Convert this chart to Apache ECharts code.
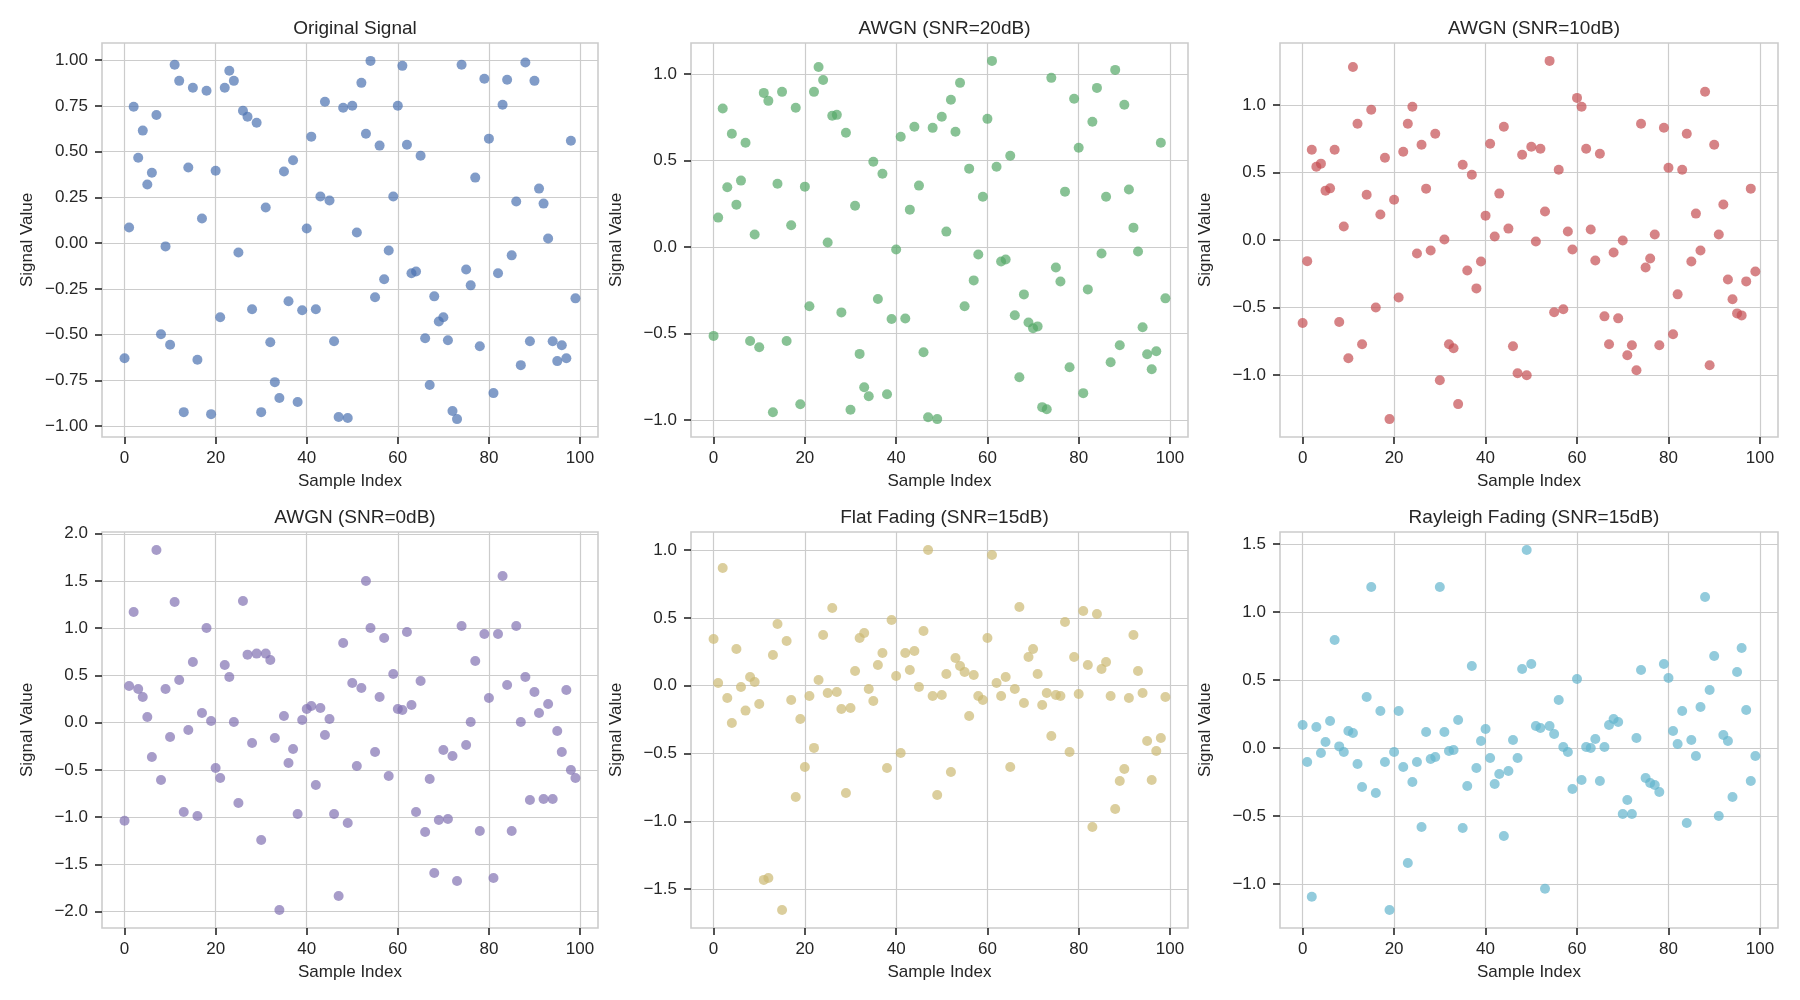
<!DOCTYPE html>
<html>
<head>
<meta charset="utf-8">
<script src="https://cdn.jsdelivr.net/npm/echarts@6/dist/echarts.min.js"></script>
<style>html,body{margin:0;padding:0;background:#fff}#c{width:1800px;height:1000px}</style>
</head>
<body>
<div id="c"></div>
<script>
// ---- DATA (sample index is the position in each array: 0..99) ----
const titles = ["Original Signal","AWGN (SNR=20dB)","AWGN (SNR=10dB)","AWGN (SNR=0dB)","Flat Fading (SNR=15dB)","Rayleigh Fading (SNR=15dB)"];
const xTicks = [0,20,40,60,80,100];

const original = [-0.629,0.085,0.745,0.467,0.615,0.32,0.385,0.70,-0.498,-0.018,
-0.556,0.975,0.887,-0.924,0.413,0.849,-0.638,0.135,0.833,-0.935,
0.396,-0.405,0.849,0.942,0.887,-0.051,0.724,0.691,-0.362,0.658,
-0.924,0.195,-0.542,-0.76,-0.847,0.391,-0.318,0.453,-0.869,-0.367,
0.08,0.582,-0.362,0.255,0.773,0.233,-0.536,-0.951,0.74,-0.956,
0.751,0.058,0.876,0.598,0.996,-0.296,0.533,-0.198,-0.04,0.255,
0.751,0.969,0.538,-0.165,-0.155,0.478,-0.52,-0.776,-0.291,-0.429,
-0.405,-0.531,-0.918,-0.962,0.975,-0.144,-0.231,0.358,-0.564,0.898,
0.571,-0.82,-0.165,0.756,0.893,-0.067,0.227,-0.667,0.987,-0.536,
0.887,0.298,0.216,0.025,-0.536,-0.645,-0.558,-0.629,0.56,-0.302];

const awgn20 = [-0.513,0.171,0.802,0.346,0.656,0.246,0.385,0.604,-0.542,0.073,
-0.579,0.892,0.846,-0.954,0.367,0.898,-0.542,0.127,0.806,-0.908,
0.35,-0.342,0.898,1.042,0.967,0.027,0.76,0.765,-0.377,0.662,
-0.94,0.24,-0.617,-0.81,-0.862,0.494,-0.3,0.425,-0.85,-0.415,
-0.013,0.638,-0.412,0.217,0.696,0.356,-0.608,-0.983,0.69,-0.994,
0.754,0.09,0.852,0.667,0.95,-0.342,0.454,-0.192,-0.042,0.292,
0.742,1.077,0.465,-0.083,-0.071,0.529,-0.394,-0.752,-0.273,-0.435,
-0.469,-0.458,-0.925,-0.937,0.979,-0.117,-0.198,0.321,-0.694,0.858,
0.575,-0.844,-0.244,0.725,0.921,-0.037,0.292,-0.665,1.025,-0.567,
0.823,0.333,0.113,-0.025,-0.463,-0.619,-0.706,-0.602,0.604,-0.296];

const awgn10 = [-0.613,-0.155,0.67,0.544,0.567,0.367,0.384,0.67,-0.606,0.101,
-0.874,1.283,0.862,-0.771,0.337,0.966,-0.498,0.19,0.611,-1.325,
0.3,-0.424,0.655,0.862,0.988,-0.099,0.707,0.382,-0.076,0.788,
-1.037,0.005,-0.771,-0.8,-1.214,0.559,-0.224,0.485,-0.357,-0.158,
0.182,0.714,0.027,0.345,0.84,0.086,-0.786,-0.985,0.633,-1.0,
0.692,-0.01,0.677,0.212,1.328,-0.534,0.522,-0.512,0.064,-0.069,
1.054,0.988,0.677,0.079,-0.15,0.64,-0.564,-0.771,-0.091,-0.579,
-0.002,-0.852,-0.778,-0.963,0.862,-0.202,-0.135,0.042,-0.778,0.833,
0.537,-0.697,-0.401,0.522,0.788,-0.158,0.197,-0.076,1.099,-0.926,
0.707,0.042,0.264,-0.291,-0.438,-0.542,-0.557,-0.305,0.382,-0.232];

const awgn0 = [-1.038,0.388,1.172,0.357,0.272,0.06,-0.364,1.828,-0.607,0.357,
-0.152,1.278,0.452,-0.946,-0.078,0.642,-0.988,0.102,1.002,0.018,
-0.48,-0.586,0.611,0.484,0.007,-0.851,1.288,0.72,-0.215,0.731,
-1.243,0.731,0.664,-0.162,-1.984,0.071,-0.427,-0.279,-0.967,0.028,
0.145,0.176,-0.66,0.155,-0.131,0.039,-0.967,-1.835,0.844,-1.062,
0.42,-0.459,0.367,1.5,1.002,-0.311,0.272,0.897,-0.565,0.515,
0.145,0.134,0.96,0.187,-0.946,0.441,-1.158,-0.597,-1.592,-1.031,
-0.289,-1.02,-0.353,-1.677,1.024,-0.236,0.007,0.653,-1.147,0.939,
0.261,-1.645,0.939,1.553,0.399,-1.147,1.024,0.007,0.484,-0.819,
0.325,0.102,-0.808,0.198,-0.808,-0.088,-0.311,0.346,-0.501,-0.586];

const flatFading = [0.344,0.02,0.867,-0.091,-0.275,0.27,-0.01,-0.184,0.064,0.027,
-0.135,-1.432,-1.418,0.226,0.455,-1.654,0.329,-0.106,-0.821,-0.246,
-0.6,-0.076,-0.459,0.042,0.373,-0.054,0.572,-0.047,-0.172,-0.791,
-0.165,0.108,0.351,0.388,-0.025,-0.113,0.152,0.241,-0.607,0.484,
0.071,-0.496,0.241,0.115,0.256,-0.01,0.403,1.0,-0.076,-0.806,
-0.069,0.086,-0.636,0.204,0.145,0.101,-0.224,0.079,-0.076,-0.106,
0.351,0.963,0.02,-0.076,0.064,-0.6,-0.025,0.58,-0.128,0.211,
0.27,0.086,-0.143,-0.054,-0.371,-0.069,-0.076,0.469,-0.489,0.211,
-0.061,0.55,0.152,-1.042,0.528,0.123,0.174,-0.076,-0.909,-0.703,
-0.614,-0.091,0.373,0.108,-0.054,-0.408,-0.695,-0.482,-0.386,-0.084];

const rayleigh = [0.169,-0.103,-1.094,0.155,-0.037,0.044,0.199,0.795,0.012,-0.029,
0.125,0.11,-0.118,-0.287,0.375,1.185,-0.331,0.272,-0.103,-1.192,
-0.029,0.272,-0.14,-0.846,-0.25,-0.103,-0.581,0.118,-0.081,-0.066,
1.185,0.118,-0.022,-0.015,0.206,-0.589,-0.28,0.604,-0.147,0.052,
0.14,-0.074,-0.265,-0.191,-0.648,-0.169,0.059,-0.074,0.581,1.457,
0.618,0.162,0.147,-1.035,0.162,0.103,0.353,0.007,-0.029,-0.302,
0.508,-0.236,0.007,0.0,0.066,-0.243,0.007,0.169,0.213,0.191,
-0.486,-0.383,-0.486,0.074,0.574,-0.221,-0.258,-0.272,-0.324,0.618,
0.515,0.125,0.029,0.272,-0.552,0.059,-0.059,0.302,1.111,0.427,
0.677,-0.5,0.096,0.052,-0.361,0.559,0.736,0.28,-0.243,-0.059];

const yTicks = [
  [-1,-0.75,-0.5,-0.25,0,0.25,0.5,0.75,1],
  [-1,-0.5,0,0.5,1],
  [-1,-0.5,0,0.5,1],
  [-2,-1.5,-1,-0.5,0,0.5,1,1.5,2],
  [-1.5,-1,-0.5,0,0.5,1],
  [-1,-0.5,0,0.5,1,1.5]
];
const yDecimals = [2,1,1,1,1,1];
const seriesValues = [original, awgn20, awgn10, awgn0, flatFading, rayleigh];
const colors = ["#4C72B0","#55A868","#C44E52","#8172B2","#CCB974","#64B5CD"];

// ---- LAYOUT ----
const lefts = [102, 691, 1280];
const widths = [496, 497, 498];
const tops = [43, 532];
const heights = [394, 396];
const FONT = "'Liberation Sans', Arial, sans-serif";
const TXT = "#262626";

const fmt = (d) => (v) => {
  const a = Math.abs(v).toFixed(d);
  return (v < -1e-9 ? "\u2212" : "") + a;
};

const option = {
  animation: false,
  backgroundColor: "#ffffff",
  textStyle: { fontFamily: FONT, color: TXT },
  title: [], grid: [], xAxis: [], yAxis: [], series: []
};

for (let k = 0; k < 6; k++) {
  const r = Math.floor(k / 3), c = k % 3;
  const vals = seriesValues[k];
  const lo = Math.min(...vals), hi = Math.max(...vals), span = hi - lo;
  const xn = vals.length - 1;
  option.grid.push({
    left: lefts[c], top: tops[r], width: widths[c], height: heights[r],
    show: true, borderColor: "#cccccc", borderWidth: 1.6, backgroundColor: "transparent"
  });
  option.title.push({
    text: titles[k], left: lefts[c] + widths[c] / 2, top: tops[r] - 29, textAlign: "center",
    textStyle: { fontFamily: FONT, fontSize: 19, fontWeight: "normal", color: TXT }
  });
  option.xAxis.push({
    type: "value", gridIndex: k, min: -0.05 * xn, max: xn + 0.05 * xn,
    name: "Sample Index", nameLocation: "middle", nameGap: 36,
    nameTextStyle: { fontFamily: FONT, fontSize: 17, color: TXT },
    axisLine: { show: false, onZero: false },
    axisTick: { show: true, length: 7, inside: false, customValues: xTicks, lineStyle: { color: TXT, width: 1.6 } },
    axisLabel: { show: true, customValues: xTicks, margin: 13, fontFamily: FONT, fontSize: 17, color: TXT, formatter: (v) => String(v) },
    splitLine: { show: true, lineStyle: { color: "#cccccc", width: 1.2 } }
  });
  option.yAxis.push({
    type: "value", gridIndex: k, min: lo - 0.05 * span, max: hi + 0.05 * span,
    name: "Signal Value", nameLocation: "middle", nameGap: 66, nameRotate: 90,
    nameTextStyle: { fontFamily: FONT, fontSize: 17, color: TXT },
    axisLine: { show: false, onZero: false },
    axisTick: { show: true, length: 7, inside: false, customValues: yTicks[k], lineStyle: { color: TXT, width: 1.6 } },
    axisLabel: { show: true, customValues: yTicks[k], margin: 14, fontFamily: FONT, fontSize: 17, color: TXT, formatter: fmt(yDecimals[k]) },
    splitLine: { show: true, lineStyle: { color: "#cccccc", width: 1.2 } }
  });
  option.series.push({
    type: "scatter", xAxisIndex: k, yAxisIndex: k,
    symbol: "circle", symbolSize: 10,
    itemStyle: { color: colors[k], opacity: 0.7 },
    data: vals.map((v, i) => [i, v])
  });
}

const chart = echarts.init(document.getElementById("c"), null, { renderer: "canvas" });
chart.setOption(option);
</script>
</body>
</html>
